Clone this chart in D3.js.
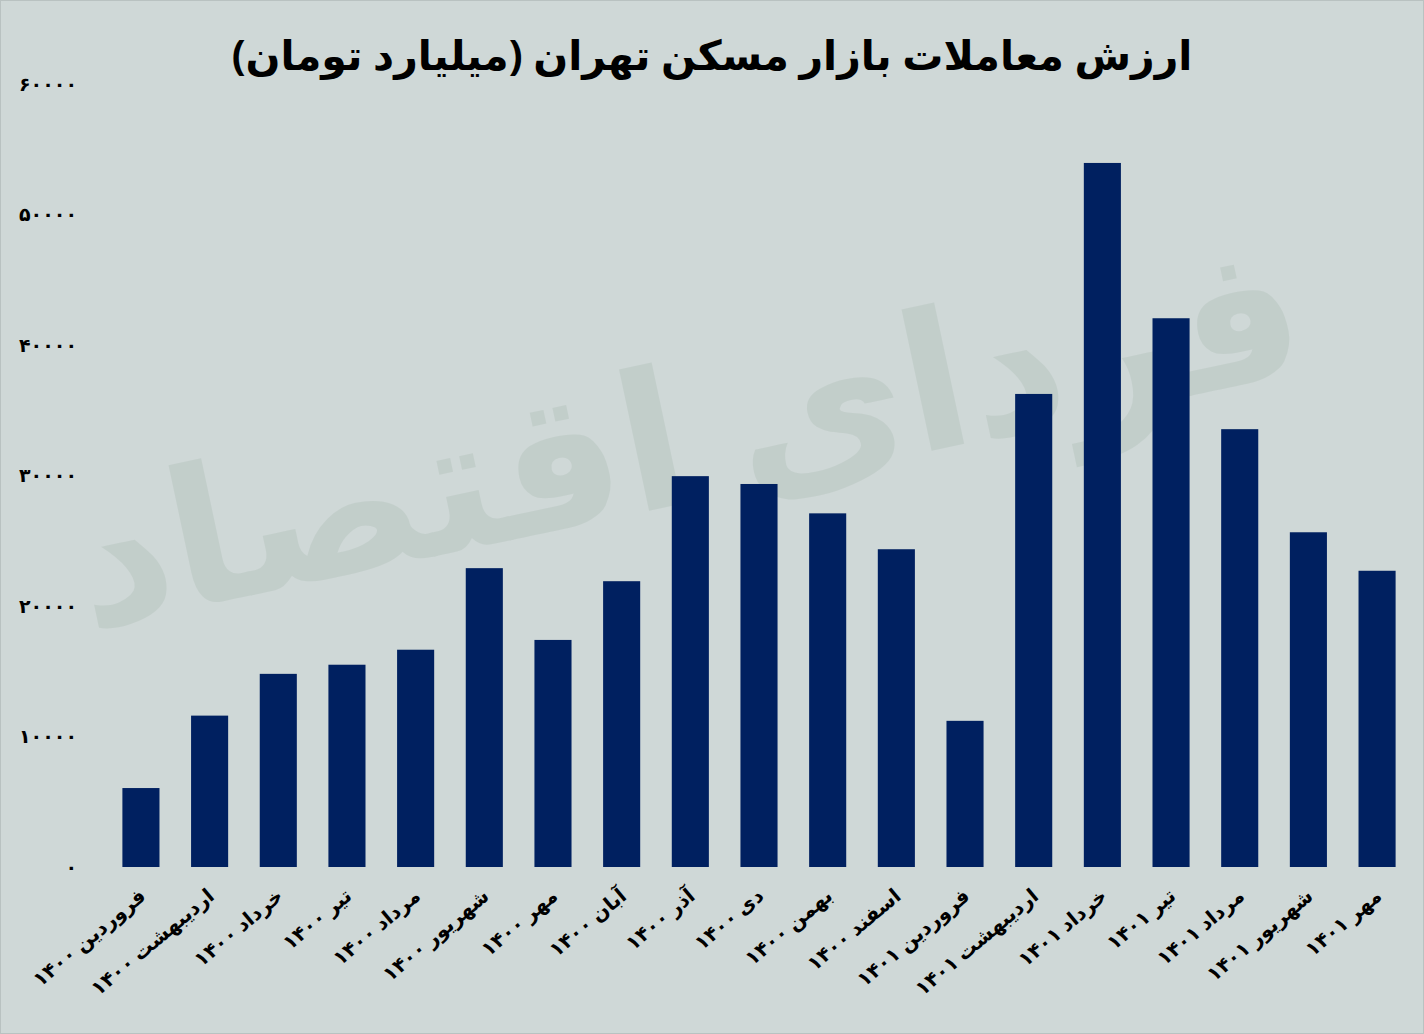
<!DOCTYPE html>
<html><head><meta charset="utf-8">
<script src="https://cdn.jsdelivr.net/npm/d3@7"></script>
<style>body{margin:0;background:#fff}svg{display:block}</style>
</head><body>
<script>
const months = ["فروردین","اردیبهشت","خرداد","تیر","مرداد","شهریور","مهر","آبان","آذر","دی","بهمن","اسفند","فروردین","اردیبهشت","خرداد","تیر","مرداد","شهریور","مهر"];
const years = ["۱۴۰۰","۱۴۰۰","۱۴۰۰","۱۴۰۰","۱۴۰۰","۱۴۰۰","۱۴۰۰","۱۴۰۰","۱۴۰۰","۱۴۰۰","۱۴۰۰","۱۴۰۰","۱۴۰۱","۱۴۰۱","۱۴۰۱","۱۴۰۱","۱۴۰۱","۱۴۰۱","۱۴۰۱"];
const values = [6050,11600,14800,15500,16650,22900,17400,21900,29950,29350,27100,24350,11200,36250,53950,42050,33550,25650,22700];
const ticks = [0,10000,20000,30000,40000,50000,60000];
const title = "ارزش معاملات بازار مسکن تهران (میلیارد تومان)";
const fa = n => String(n).replace(/\d/g, d => "۰۱۲۳۴۵۶۷۸۹"[d]);

const W=1424,H=1034;
const svg=d3.select("body").append("svg").attr("width",W).attr("height",H);
svg.append("rect").attr("x",0.5).attr("y",0.5).attr("width",W-1).attr("height",H-1).attr("fill","#cfd8d7").attr("stroke","#b9c2c1");
svg.append("text").attr("x",700).attr("y",500).attr("text-anchor","middle")
  .attr("font-family","Noto Sans, DejaVu Sans").attr("font-size",190).attr("font-weight","bold")
  .attr("fill","#b9c7c1").attr("opacity",0.55).attr("transform","rotate(-12,700,500)").text("فردای اقتصاد");
svg.append("text").attr("x",712).attr("y",70).attr("text-anchor","middle")
  .attr("font-family","Noto Sans, DejaVu Sans").attr("font-weight","bold").attr("font-size",41).attr("fill","#000").text(title);

const x=d3.scaleBand().domain(d3.range(values.length)).range([106.6,1411.4]).paddingInner(0.46).paddingOuter(0.23);
const y=d3.scaleLinear().domain([0,60000]).range([867,84]);

svg.append("g").selectAll("text").data(ticks).join("text")
  .attr("x",77).attr("y",d=>y(d)).attr("dy","0.35em").attr("text-anchor","end")
  .attr("font-family","Noto Sans, DejaVu Sans").attr("font-weight","bold").attr("font-size",19).text(d=>fa(d));

svg.append("g").selectAll("rect").data(values).join("rect")
  .attr("x",(d,i)=>x(i)).attr("width",x.bandwidth()).attr("y",d=>y(d)).attr("height",d=>y(0)-y(d))
  .attr("fill","#002060");

svg.append("g").selectAll("text").data(months).join("text")
  .attr("transform",(d,i)=>`translate(${x(i)+x.bandwidth()/2+6},${898}) rotate(-40)`)
  .attr("text-anchor","start").attr("direction","rtl")
  .attr("font-family","Noto Sans, DejaVu Sans").attr("font-weight","bold").attr("font-size",20)
  .text((d,i)=>d+" "+years[i]);
</script>
</body></html>
